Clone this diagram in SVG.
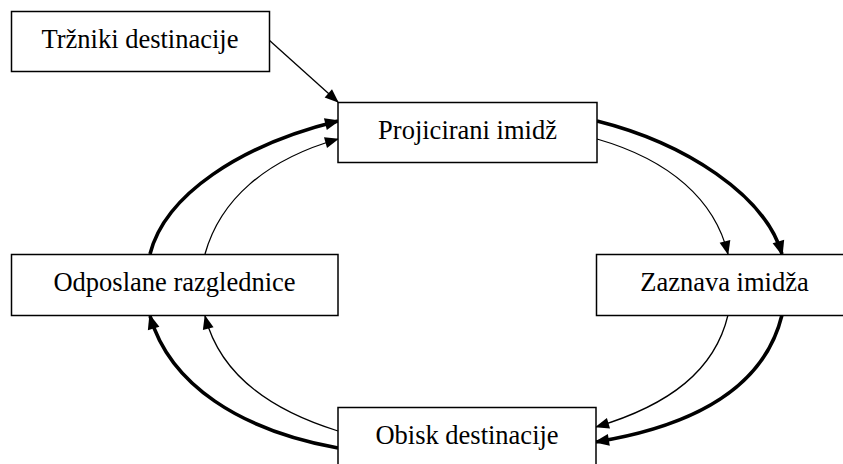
<svg xmlns="http://www.w3.org/2000/svg" width="843" height="464" viewBox="0 0 843 464">
<defs>
<style>
.box{fill:#fff;stroke:#000;stroke-width:1.5}
.lbl{font-family:"Liberation Serif","Times New Roman",serif;font-size:26.5px;fill:#000;text-anchor:middle}
.thin{fill:none;stroke:#000;stroke-width:1.3;marker-end:url(#ah)}
.thick{fill:none;stroke:#000;stroke-width:3.6;marker-end:url(#ahb)}
</style>
<marker id="ah" markerUnits="userSpaceOnUse" markerWidth="14" markerHeight="11" refX="13" refY="5.5" orient="auto" overflow="visible">
<path d="M0,0 L14,5.5 L0,11 Z" fill="#000"/>
</marker>
<marker id="ahb" markerUnits="userSpaceOnUse" markerWidth="15" markerHeight="12" refX="13" refY="6" orient="auto" overflow="visible">
<path d="M0,0 L15,6 L0,12 Z" fill="#000"/>
</marker>
</defs>
<rect width="843" height="464" fill="#fff"/>
<g id="connectors">
<path class="thin" d="M269,40 L338,102"/>
<path class="thick" d="M150,254 C165,195 240,145 338,121"/>
<path class="thin" d="M205,254 C220,200 265,160 338,139"/>
<path class="thick" d="M597,121 C685,143 765,195 782,254"/>
<path class="thin" d="M597,139 C670,160 715,200 728,254"/>
<path class="thin" d="M728,315 C715,370 670,405 596,427"/>
<path class="thick" d="M782,315 C765,385 700,425 596,442"/>
<path class="thin" d="M338,431 C270,410 220,375 205,316"/>
<path class="thick" d="M338,448 C240,430 170,385 150,316"/>
</g>
<g id="n_trzniki">
<rect class="box" x="11.5" y="11.5" width="258" height="60"/>
<text class="lbl" x="140" y="48">Tržniki destinacije</text>
</g>
<g id="n_projicirani">
<rect class="box" x="338" y="102.5" width="259" height="60"/>
<text class="lbl" x="467.5" y="139">Projicirani imidž</text>
</g>
<g id="n_odposlane">
<rect class="box" x="11.5" y="254.5" width="326.5" height="61"/>
<text class="lbl" x="174.5" y="291">Odposlane razglednice</text>
</g>
<g id="n_zaznava">
<rect class="box" x="596.5" y="254.5" width="260" height="61"/>
<text class="lbl" x="724.5" y="291">Zaznava imidža</text>
</g>
<g id="n_obisk">
<rect class="box" x="338" y="407.5" width="258" height="62"/>
<text class="lbl" x="467" y="444">Obisk destinacije</text>
</g>
</svg>
